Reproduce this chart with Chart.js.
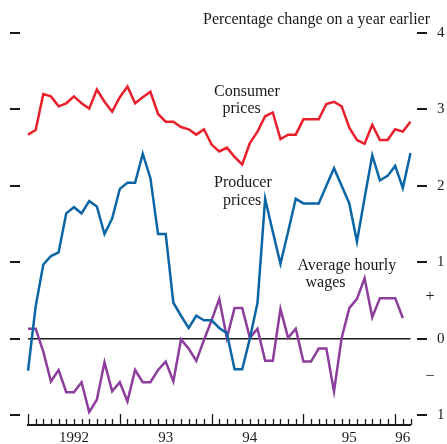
<!DOCTYPE html>
<html>
<head>
<meta charset="utf-8">
<script src="https://cdn.jsdelivr.net/npm/chart.js@4/dist/chart.umd.min.js"></script>
<style>
  html, body { margin: 0; padding: 0; background: #fff; overflow: hidden; }
  canvas { display: block; }
</style>
</head>
<body>
<canvas id="chart" width="447" height="444"></canvas>
<script>
// monthly, Jan 1992 .. Mar 1996
var months = [];
for (var yr = 1992; yr <= 1996; yr++) {
  for (var m = 1; m <= 12; m++) {
    if (months.length < 51) months.push(yr + '-' + (m < 10 ? '0' + m : m));
  }
}

// percentage change on a year earlier
var consumer = [2.67, 2.73, 3.20, 3.17, 3.04, 3.08, 3.17, 3.08, 3.01, 3.26, 3.10, 2.97,
                3.16, 3.30, 3.08, 3.16, 3.23, 2.94, 2.84, 2.84, 2.77, 2.74, 2.67, 2.74,
                2.54, 2.45, 2.50, 2.38, 2.28, 2.56, 2.71, 2.91, 2.96, 2.61, 2.67, 2.67,
                2.87, 2.87, 2.87, 3.07, 3.10, 3.04, 2.76, 2.60, 2.55, 2.80, 2.60, 2.60,
                2.74, 2.71, 2.84];
var producer = [-0.42, 0.42, 0.97, 1.08, 1.13, 1.64, 1.72, 1.64, 1.80, 1.73, 1.37, 1.57,
                1.96, 2.04, 2.04, 2.42, 2.10, 1.37, 1.37, 0.47, 0.30, 0.14, 0.30, 0.24,
                0.24, 0.14, 0.07, -0.40, -0.40, 0.00, 0.47, 1.83, 1.40, 0.98, 1.40, 1.83,
                1.77, 1.77, 1.77, 2.00, 2.23, 2.00, 1.77, 1.27, 1.84, 2.40, 2.07, 2.13,
                2.26, 1.97, 2.43];
var wages = [0.13, 0.13, -0.17, -0.56, -0.41, -0.70, -0.70, -0.57, -0.96, -0.80, -0.31, -0.69,
             -0.57, -0.82, -0.41, -0.57, -0.57, -0.41, -0.30, -0.56, -0.01, -0.13, -0.29, -0.02,
             0.24, 0.52, 0.01, 0.40, 0.40, 0.01, 0.13, -0.29, -0.29, 0.39, 0.01, 0.13,
             -0.30, -0.30, -0.13, -0.13, -0.69, 0.01, 0.40, 0.52, 0.79, 0.28, 0.53, 0.53,
             0.53, 0.27, null];

var yTicks = [-1, 0, 1, 2, 3, 4];
var yearAt = [6, 18, 29, 42, 49];
var yearText = ['1992', '93', '94', '95', '96'];

var notes = [
  { lines: ['Consumer', 'prices'], x: [214, 222.5], y: [95.5, 113] },
  { lines: ['Producer', 'prices'], x: [214, 223], y: [186.5, 205] },
  { lines: ['Average hourly', 'wages'], x: [297.5, 305.5], y: [269.5, 287] }
];

var ink = '#1a1a1a';
var serif = "'Liberation Serif', 'DejaVu Serif', serif";
Chart.defaults.font.family = serif;
Chart.defaults.color = ink;

// month ticks on the baseline, side dashes and labels, texts and the +/- signs
var extras = {
  id: 'extras',
  afterDraw: function (chart) {
    var ctx = chart.ctx;
    var xs = chart.scales.x;
    var ys = chart.scales.y;
    var base = chart.chartArea.bottom;
    ctx.save();
    ctx.strokeStyle = ink;
    ctx.lineWidth = 1.3;
    for (var i = 0; i < months.length; i++) {
      var px = Math.round(xs.getPixelForValue(i)) + 0.5;
      var len = months[i].slice(5) === '01' ? 11 : 6;
      ctx.beginPath();
      ctx.moveTo(px, base);
      ctx.lineTo(px, base - len);
      ctx.stroke();
    }
    ctx.lineWidth = 2;
    ctx.fillStyle = ink;
    ctx.font = '15px ' + serif;
    ctx.textAlign = 'left';
    ctx.textBaseline = 'middle';
    yTicks.forEach(function (v) {
      var py = Math.round(ys.getPixelForValue(v));
      ctx.beginPath();
      ctx.moveTo(10, py); ctx.lineTo(20, py);
      ctx.moveTo(417, py); ctx.lineTo(427, py);
      ctx.stroke();
      ctx.fillText(String(Math.abs(v)), 437, py);
    });
    ctx.font = '16px ' + serif;
    ctx.textBaseline = 'alphabetic';
    ctx.textAlign = 'right';
    ctx.fillText('Percentage change on a year earlier', 430, 24);
    ctx.textAlign = 'left';
    notes.forEach(function (n) {
      for (var k = 0; k < n.lines.length; k++) ctx.fillText(n.lines[k], n.x[k], n.y[k]);
    });
    ctx.textAlign = 'center';
    ctx.textBaseline = 'middle';
    ctx.fillText('+', 430, ys.getPixelForValue(0.55));
    ctx.fillText('\u2212', 430, ys.getPixelForValue(-0.5));
    ctx.restore();
  }
};

var chart = new Chart(document.getElementById('chart').getContext('2d'), {
  type: 'line',
  data: {
    labels: months,
    datasets: [{
      label: 'Consumer prices',
      data: consumer,
      borderColor: '#e8202b',
      borderWidth: 2.5,
      pointRadius: 0
    }, {
      label: 'Producer prices',
      data: producer,
      borderColor: '#0b66a6',
      borderWidth: 2.5,
      pointRadius: 0
    }, {
      label: 'Average hourly wages',
      data: wages,
      borderColor: '#8d3d9c',
      borderWidth: 2.5,
      pointRadius: 0
    }]
  },
  options: {
    responsive: false,
    animation: false,
    layout: { padding: { top: 33, left: 10, right: 36.5, bottom: 0 } },
    plugins: { legend: { display: false }, tooltip: { enabled: false } },
    scales: {
      x: {
        type: 'category',
        offset: false,
        grid: { display: false, drawTicks: false },
        border: { display: true, color: ink, width: 2 },
        ticks: {
          autoSkip: false, maxRotation: 0, minRotation: 0, padding: 4,
          font: { size: 15 },
          callback: function (v, i) {
            var k = yearAt.indexOf(i);
            return k < 0 ? '' : yearText[k];
          }
        },
        afterFit: function (s) { s.height = 19; }
      },
      y: {
        position: 'left',
        min: -1.13, max: 4,
        afterBuildTicks: function (s) { s.ticks = yTicks.map(function (v) { return { value: v }; }); },
        ticks: { display: false },
        border: { display: false },
        grid: {
          color: function (c) { return c.tick && c.tick.value === 0 ? ink : 'rgba(0,0,0,0)'; },
          lineWidth: 1.5,
          drawTicks: false
        },
        afterFit: function (s) { s.width = 18; }
      }
    }
  },
  plugins: [extras]
});
</script>
</body>
</html>
